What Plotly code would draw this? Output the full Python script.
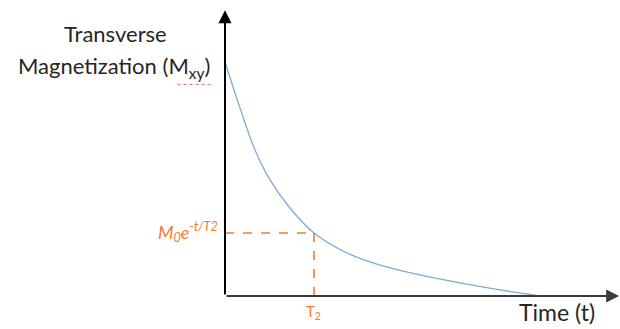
import plotly.graph_objects as go

# Decay curve samples (time in units of T2, magnetization in units of M0)
time_t = [0.0, 0.169, 0.337, 0.506, 0.730, 1.0, 1.348, 1.742, 2.191, 2.640, 3.090, 3.506]
mag_xy = [1.0, 0.803, 0.624, 0.496, 0.376, 0.269, 0.188, 0.132, 0.090, 0.056, 0.026, 0.002]

t2_time = 1.0
t2_value = 0.269

x_max = 4.438
y_max = 1.231

orange = "#ED7D31"
blue = "#7FA9D6"
text_col = "#262626"

fig = go.Figure()

fig.add_trace(go.Scatter(
    x=time_t, y=mag_xy, mode="lines",
    line=dict(color=blue, width=1.3, shape="spline", smoothing=1.0),
    hoverinfo="skip", showlegend=False,
))

shapes = [
    # dashed guide lines to the T2 point
    dict(type="line", xref="x", yref="y", x0=0, x1=t2_time, y0=t2_value, y1=t2_value,
         line=dict(color=orange, width=1.6, dash="dash")),
    dict(type="line", xref="x", yref="y", x0=t2_time, x1=t2_time, y0=0, y1=t2_value,
         line=dict(color=orange, width=1.6, dash="dash")),
    # spell-check squiggle under the subscript
    dict(type="line", xref="paper", yref="paper", x0=-0.12, x1=-0.03, y0=0.735, y1=0.735,
         line=dict(color="#E06666", width=1, dash="dot")),
]

annotations = [
    # vertical axis with arrow
    dict(x=0, y=y_max - 0.01, ax=0, ay=0, xref="x", yref="y", axref="x", ayref="y",
         text="", showarrow=True, arrowhead=2, arrowsize=1.3, arrowwidth=2,
         arrowcolor="#000000"),
    # horizontal axis with arrow
    dict(x=x_max - 0.01, y=0, ax=0, ay=0, xref="x", yref="y", axref="x", ayref="y",
         text="", showarrow=True, arrowhead=2, arrowsize=1.3, arrowwidth=2,
         arrowcolor="#3a3a3a"),
    dict(x=-0.276, y=0.912, xref="paper", yref="paper", xanchor="center", yanchor="middle",
         text="Transverse", showarrow=False,
         font=dict(family="Lato", size=22, color=text_col)),
    dict(x=-0.281, y=0.795, xref="paper", yref="paper", xanchor="center", yanchor="middle",
         text="Magnetization (M<sub>xy</sub>)", showarrow=False,
         font=dict(family="Lato", size=22, color=text_col)),
    dict(x=-0.012, y=0.222, xref="paper", yref="paper", xanchor="right", yanchor="middle",
         text="<i>M<sub>0</sub>e<sup>-t/T2</sup></i>", showarrow=False,
         font=dict(family="Lato", size=18, color=orange)),
    dict(x=0.225, y=-0.015, xref="paper", yref="paper", xanchor="center", yanchor="top",
         text="T<sub>2</sub>", showarrow=False,
         font=dict(family="Lato", size=15, color=orange)),
    dict(x=0.74, y=0.0, xref="paper", yref="paper", xanchor="left", yanchor="top",
         text="Time (t)", showarrow=False,
         font=dict(family="Lato", size=23, color=text_col)),
]

fig.update_layout(
    width=620, height=329,
    margin=dict(l=225, r=0, t=8, b=33),
    paper_bgcolor="white", plot_bgcolor="white",
    xaxis=dict(range=[0, x_max], visible=False, fixedrange=True),
    yaxis=dict(range=[0, y_max], visible=False, fixedrange=True),
    shapes=shapes, annotations=annotations,
    showlegend=False,
)

fig.write_html("out.html")
